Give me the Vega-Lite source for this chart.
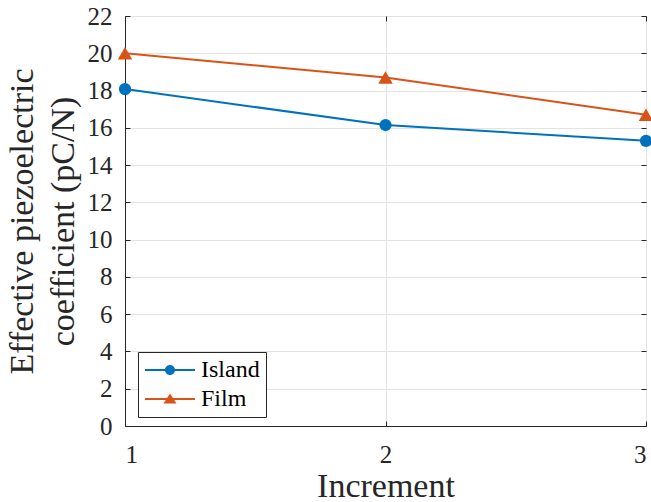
{
  "$schema": "https://vega.github.io/schema/vega-lite/v6.json",
  "width": 521,
  "height": 410,
  "autosize": "none",
  "padding": {"left": 125, "top": 16, "right": 5, "bottom": 76},
  "background": "white",
  "config": {
    "view": {"stroke": "#262626", "strokeWidth": 1},
    "font": "Liberation Serif",
    "axis": {
      "domainColor": "#262626",
      "tickColor": "#262626",
      "gridColor": "#e3e3e3",
      "gridWidth": 1,
      "labelColor": "#262626",
      "titleColor": "#262626",
      "labelFont": "Liberation Serif",
      "titleFont": "Liberation Serif",
      "titleFontWeight": "normal",
      "labelFontSize": 25,
      "titleFontSize": 34
    },
    "legend": {
      "labelFont": "Liberation Serif", "labelFontSize": 24, "labelColor": "black",
      "strokeColor": "#262626", "fillColor": "white", "padding": 6,
      "symbolSize": 100, "symbolOffset": 14, "labelOffset": 19, "rowPadding": 5,
      "symbolOpacity": 1, "symbolStrokeWidth": 0
    }
  },
  "data": {
    "values": [
      {"increment": 1, "series": "Island", "value": 18.08},
      {"increment": 2, "series": "Island", "value": 16.15},
      {"increment": 3, "series": "Island", "value": 15.3},
      {"increment": 1, "series": "Film", "value": 20.0},
      {"increment": 2, "series": "Film", "value": 18.7},
      {"increment": 3, "series": "Film", "value": 16.7}
    ]
  },
  "resolve": {"axis": {"x": "independent", "y": "independent"}, "legend": {"color": "independent", "shape": "independent"}},
  "layer": [
    {
      "mark": {"type": "line", "strokeWidth": 2},
      "encoding": {
        "x": {
          "field": "increment", "type": "quantitative",
          "scale": {"domain": [1, 3], "nice": false, "zero": false},
          "axis": {"orient": "bottom", "tickCount": 2, "title": "Increment", "labelOverlap": false,
                   "tickSize": -5, "labelPadding": 21, "titlePadding": 2, "grid": true}
        },
        "y": {
          "field": "value", "type": "quantitative",
          "scale": {"domain": [0, 22], "nice": false},
          "axis": {"orient": "left", "values": [0,2,4,6,8,10,12,14,16,18,20,22],
                   "title": ["Effective piezoelectric", "coefficient (pC/N)"],
                   "titleLineHeight": 41,
                   "tickSize": -5, "labelPadding": 18, "titlePadding": 7, "grid": true}
        },
        "color": {
          "field": "series", "type": "nominal",
          "scale": {"domain": ["Island", "Film"], "range": ["#0072BD", "#D95319"]},
          "legend": null
        }
      }
    },
    {
      "transform": [{"filter": "datum.series === 'Island'"}],
      "mark": {"type": "point", "filled": true, "opacity": 1, "shape": "circle", "size": 150},
      "encoding": {
        "x": {
          "field": "increment", "type": "quantitative",
          "axis": {"orient": "top", "tickCount": 2, "labels": false, "title": null,
                   "domain": false, "grid": false, "tickSize": -5}
        },
        "y": {
          "field": "value", "type": "quantitative",
          "axis": {"orient": "right", "values": [0,2,4,6,8,10,12,14,16,18,20,22], "labels": false, "title": null,
                   "domain": false, "grid": false, "tickSize": -5}
        },
        "color": {"field": "series", "type": "nominal", "legend": null}
      }
    },
    {
      "transform": [{"filter": "datum.series === 'Film'"}],
      "mark": {"type": "point", "filled": true, "opacity": 1, "shape": "triangle-up", "size": 210},
      "encoding": {
        "x": {"field": "increment", "type": "quantitative", "axis": null},
        "y": {"field": "value", "type": "quantitative", "axis": null},
        "color": {"field": "series", "type": "nominal", "legend": null}
      }
    },
    {
      "transform": [{"filter": "datum.increment > 100"}],
      "mark": {"type": "point", "filled": true, "opacity": 1},
      "encoding": {
        "x": {"field": "increment", "type": "quantitative", "axis": null},
        "y": {"field": "value", "type": "quantitative", "axis": null},
        "color": {
          "field": "series", "type": "nominal",
          "legend": {"orient": "none", "legendX": 13, "legendY": 336, "title": null}
        },
        "shape": {
          "field": "series", "type": "nominal",
          "scale": {"domain": ["Island", "Film"], "range": [
            "M-5,-0.2L5,-0.2L5,0.2L-5,0.2ZM1,0A1,1,0,1,1,-1,0A1,1,0,1,1,1,0Z",
            "M-5,-0.2L5,-0.2L5,0.2L-5,0.2ZM0,-1.1L1.3,0.9L-1.3,0.9Z"
          ]},
          "legend": {"orient": "none", "legendX": 13, "legendY": 336, "title": null}
        }
      }
    }
  ]
}
